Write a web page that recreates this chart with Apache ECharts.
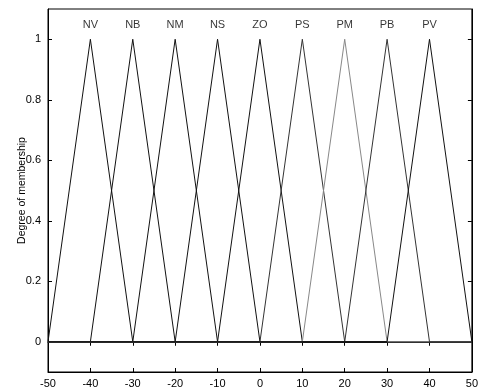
<!DOCTYPE html>
<html>
<head>
<meta charset="utf-8">
<script src="https://cdn.jsdelivr.net/npm/echarts@6/dist/echarts.min.js"></script>
<style>
  html, body { margin: 0; padding: 0; background: #fff; }
  #chart { width: 481px; height: 389px; }
</style>
</head>
<body>
<div id="chart"></div>
<script>
// Triangular membership functions over the universe [-50, 50]
const setNames = ['NV', 'NB', 'NM', 'NS', 'ZO', 'PS', 'PM', 'PB', 'PV'];
const leftFeet = [-50, -40, -30, -20, -10, 0, 10, 20, 30];
const peaks    = [-40, -30, -20, -10, 0, 10, 20, 30, 40];
const rightFeet = [-30, -20, -10, 0, 10, 20, 30, 40, 50];
const lineColors = ['#111', '#111', '#111', '#111', '#111', '#333', '#888', '#333', '#111'];
const xTicks = [-50, -40, -30, -20, -10, 0, 10, 20, 30, 40, 50];
const yTicks = [0, 0.2, 0.4, 0.6, 0.8, 1];

const font = 'Liberation Sans, Arial, sans-serif';

const series = setNames.map((name, i) => {
  const pts = [];
  if (leftFeet[i] > -50) pts.push([-50, 0]);
  pts.push([leftFeet[i], 0]);
  pts.push([peaks[i], 1]);
  pts.push([rightFeet[i], 0]);
  if (rightFeet[i] < 50) pts.push([50, 0]);
  return {
    type: 'line', name: name, data: pts, symbol: 'none',
    lineStyle: { color: lineColors[i], width: 1 },
    silent: true, animation: false
  };
});

// set names written above each peak
series.push({
  type: 'scatter', name: 'labels', symbolSize: 0, silent: true,
  data: setNames.map((name, i) => ({ value: [peaks[i], 1], name: name })),
  label: {
    show: true, position: 'top', distance: 9, formatter: p => p.name,
    color: '#000', fontSize: 11, fontFamily: font
  }
});

const chart = echarts.init(document.getElementById('chart'), null, { renderer: 'canvas' });
chart.setOption({
  backgroundColor: '#fff',
  animation: false,
  grid: { left: 48, right: 6, top: 9, bottom: 16, show: true, borderColor: '#000', borderWidth: 1 },
  xAxis: [{
    type: 'value', min: -50, max: 50, interval: 10, position: 'bottom',
    axisLine: { show: true, onZero: false, lineStyle: { color: '#000' } },
    axisTick: { show: true, inside: true, length: 4, lineStyle: { color: '#000' } },
    axisLabel: { color: '#000', fontSize: 11, fontFamily: font, margin: 6 },
    splitLine: { show: false }
  }, {
    type: 'value', min: -50, max: 50, interval: 10, position: 'top',
    axisLine: { show: true, lineStyle: { color: '#000' } },
    axisTick: { show: true, inside: true, length: 4, lineStyle: { color: '#000' } },
    axisLabel: { show: false },
    splitLine: { show: false }
  }],
  yAxis: [{
    type: 'value', min: -0.1, max: 1.1, position: 'left',
    name: 'Degree of membership', nameLocation: 'middle', nameGap: 20,
    nameMoveOverlap: false,
    nameTextStyle: { color: '#000', fontSize: 10.5, fontFamily: font },
    axisLine: { show: true, onZero: false, lineStyle: { color: '#000' } },
    axisTick: { show: true, inside: true, length: 4, customValues: yTicks, lineStyle: { color: '#000' } },
    axisLabel: { color: '#000', fontSize: 11, fontFamily: font, margin: 7, customValues: yTicks },
    splitLine: { show: false }
  }, {
    type: 'value', min: -0.1, max: 1.1, position: 'right',
    axisLine: { show: true, onZero: false, lineStyle: { color: '#000' } },
    axisTick: { show: true, inside: true, length: 4, customValues: yTicks, lineStyle: { color: '#000' } },
    axisLabel: { show: false, customValues: yTicks },
    splitLine: { show: false }
  }],
  series: series
});
</script>
</body>
</html>
